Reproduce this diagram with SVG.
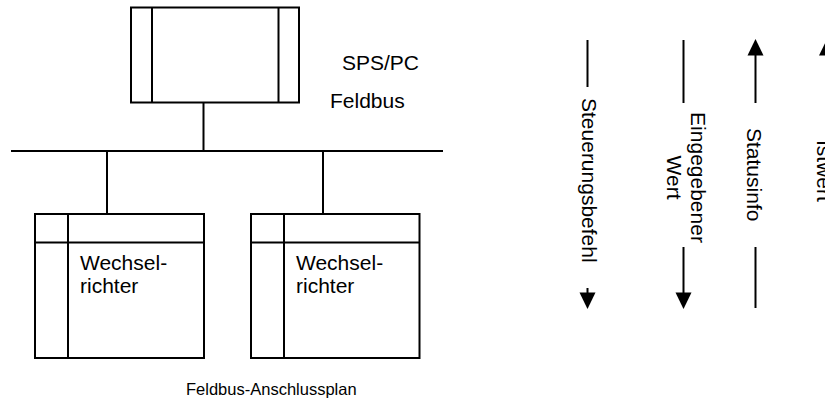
<svg xmlns="http://www.w3.org/2000/svg" width="825" height="401" viewBox="0 0 825 401">
<style>
.ln{stroke:#000;stroke-width:2;fill:none}
.bx{stroke:#000;stroke-width:2;fill:#fff}
.t{font-family:"Liberation Sans",Arial,sans-serif;font-size:21px;fill:#000}
.cap{font-family:"Liberation Sans",Arial,sans-serif;font-size:16.5px;fill:#000}
.hd{fill:#000;stroke:none}
</style>
<rect width="825" height="401" fill="#fff"/>
<g id="connectors">
<line class="ln" x1="203.5" y1="103" x2="203.5" y2="151"/>
<line class="ln" x1="11" y1="151" x2="443" y2="151"/>
<line class="ln" x1="107" y1="151" x2="107" y2="214"/>
<line class="ln" x1="323" y1="151" x2="323" y2="214"/>
</g>
<g id="sps">
<rect class="bx" x="131" y="7.5" width="168" height="95"/>
<line class="ln" x1="152" y1="7.5" x2="152" y2="102.5"/>
<line class="ln" x1="278.5" y1="7.5" x2="278.5" y2="102.5"/>
<text class="t" x="342" y="70">SPS/PC</text>
</g>
<g id="feldbus-label">
<text class="t" x="330" y="108">Feldbus</text>
</g>
<g id="wr1">
<rect class="bx" x="35" y="214" width="169" height="144"/>
<line class="ln" x1="68" y1="214" x2="68" y2="358"/>
<line class="ln" x1="35" y1="242.5" x2="204" y2="242.5"/>
<text class="t" x="80" y="270">Wechsel-</text>
<text class="t" x="80" y="293">richter</text>
</g>
<g id="wr2">
<rect class="bx" x="251" y="214" width="168.5" height="144"/>
<line class="ln" x1="284" y1="214" x2="284" y2="358"/>
<line class="ln" x1="251" y1="242.5" x2="419.5" y2="242.5"/>
<text class="t" x="296" y="270">Wechsel-</text>
<text class="t" x="296" y="293">richter</text>
</g>
<g id="caption">
<text class="cap" x="186" y="395">Feldbus-Anschlussplan</text>
</g>
<g id="steuerungsbefehl">
<line class="ln" x1="587.5" y1="40" x2="587.5" y2="87"/>
<line class="ln" x1="587.5" y1="288" x2="587.5" y2="294"/>
<polygon class="hd" points="579.5,292.5 595.5,292.5 587.5,309"/>
<text class="t" transform="translate(581.5,98) rotate(90)">Steuerungsbefehl</text>
</g>
<g id="eingegebener-wert">
<line class="ln" x1="683.5" y1="40" x2="683.5" y2="103"/>
<line class="ln" x1="683.5" y1="247" x2="683.5" y2="294"/>
<polygon class="hd" points="675.5,292.5 691.5,292.5 683.5,309"/>
<text class="t" transform="translate(691,177.5) rotate(90)" text-anchor="middle">Eingegebener</text>
<text class="t" transform="translate(667,177.5) rotate(90)" text-anchor="middle">Wert</text>
</g>
<g id="statusinfo">
<polygon class="hd" points="747.5,55.5 763.5,55.5 755.5,39"/>
<line class="ln" x1="755.5" y1="54" x2="755.5" y2="103"/>
<line class="ln" x1="755.5" y1="247" x2="755.5" y2="308"/>
<text class="t" transform="translate(747,128) rotate(90)">Statusinfo</text>
</g>
<g id="istwert">
<polygon class="hd" points="819,55.5 835,55.5 827,39"/>
<line class="ln" x1="827" y1="54" x2="827" y2="103"/>
<text class="t" transform="translate(817,140) rotate(90)">Istwert</text>
</g>
</svg>
